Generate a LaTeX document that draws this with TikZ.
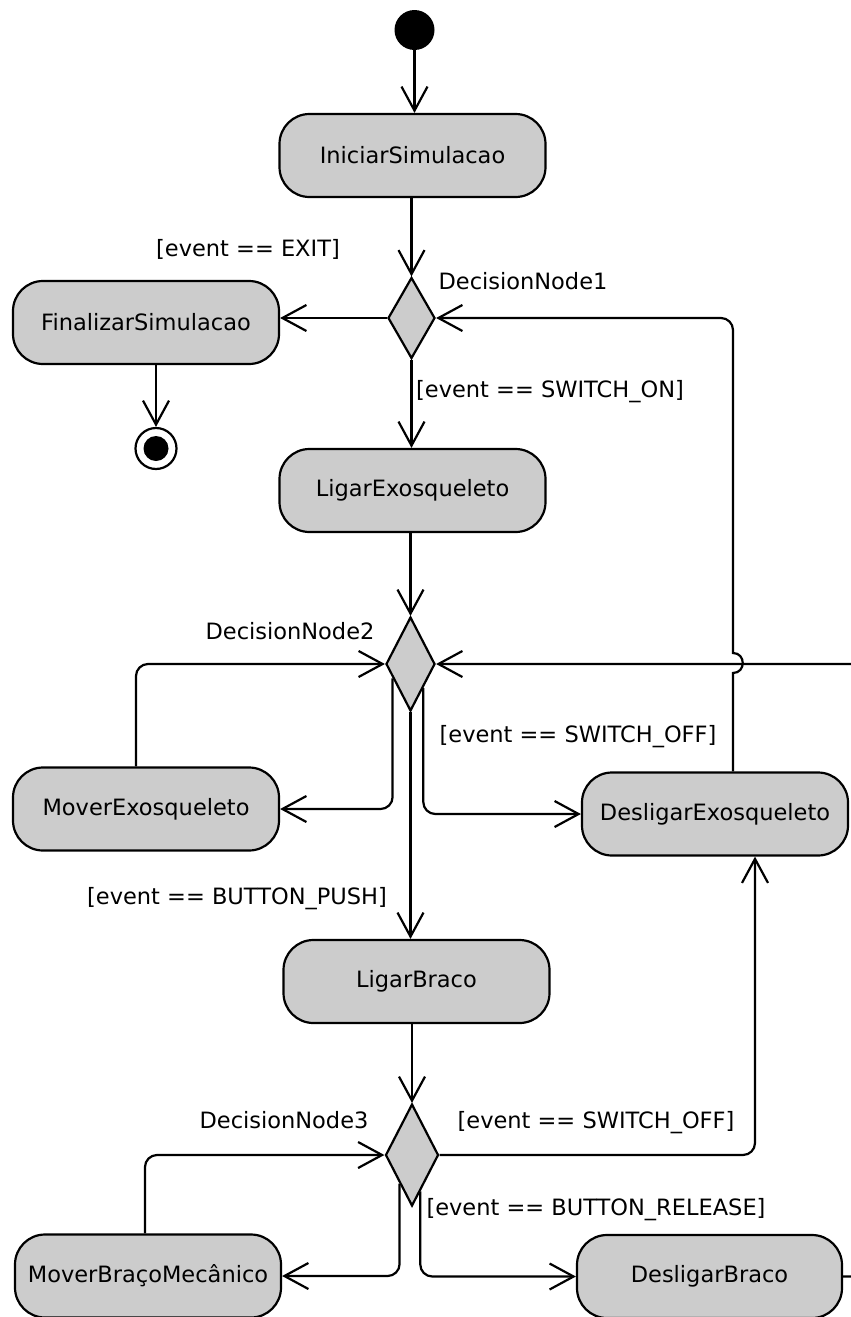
\documentclass[tikz,border=0pt]{standalone}
\usepackage{fontspec}
\setmainfont{DejaVu Sans}
\usetikzlibrary{arrows.meta,shapes.geometric,calc}
\definecolor{actfill}{HTML}{CCCCCC}

\begin{document}
\begin{tikzpicture}[x=1pt,y=-1pt,
  every node/.style={font=\fontsize{22.5}{27}\selectfont},
  action/.style={draw,line width=2.2pt,fill=actfill,rounded corners=30pt,
    minimum width=266pt,minimum height=83pt,inner sep=0pt},
  decision/.style={draw,line width=2.2pt,fill=actfill,diamond,inner sep=0pt},
  flow/.style={line width=2.2pt,rounded corners=12pt,
    -{Straight Barb[length=24pt,width=26pt]}},
  guard/.style={inner sep=0pt}
]
\useasboundingbox (0,0) rectangle (851,1317);

% start and end of the activity
\node[circle,fill=black,minimum size=40pt,inner sep=0pt] (init) at (414.5,30) {};
\node[circle,draw,line width=2.2pt,minimum size=41pt,inner sep=0pt] (fin) at (156,448.5) {};
\node[circle,fill=black,minimum size=25pt,inner sep=0pt] (finDot) at (156,448.5) {};

% actions
\node[action] (Ini) at (412.5,155.5) {IniciarSimulacao};
\node[action] (Fin) at (146,322.5) {FinalizarSimulacao};
\node[action] (LE)  at (412.5,490.5) {LigarExosqueleto};
\node[action] (ME)  at (146,809) {MoverExosqueleto};
\node[action] (DX)  at (715,814) {DesligarExosqueleto};
\node[action] (LB)  at (416.5,981.5) {LigarBraco};
\node[action] (MB)  at (148,1276) {MoverBraçoMecânico};
\node[action,minimum width=265pt] (DB) at (709.5,1276.5) {DesligarBraco};

% decisions
\node[decision,minimum width=47pt,minimum height=81pt]  (D1) at (411.5,318) {};
\node[decision,minimum width=49pt,minimum height=94pt]  (D2) at (410.5,664) {};
\node[decision,minimum width=53pt,minimum height=102pt] (D3) at (412,1155) {};

% decision names and guards
\node[guard] (n1) at (523,281) {DecisionNode1};
\node[guard] (n2) at (290,631) {DecisionNode2};
\node[guard] (n3) at (284,1120) {DecisionNode3};
\node[guard] (gExit)    at (248,249)  {[event == EXIT]};
\node[guard] (gOn)      at (550,392)  {[event == SWITCH\_ON]};
\node[guard] (gOff1)    at (578,737)  {[event == SWITCH\_OFF]};
\node[guard] (gPush)    at (237,899)  {[event == BUTTON\_PUSH]};
\node[guard] (gOff2)    at (596,1123) {[event == SWITCH\_OFF]};
\node[guard] (gRelease) at (596,1210) {[event == BUTTON\_RELEASE]};

% control flows
\draw[flow] (init.south) -- (init.south |- Ini.north);
\draw[flow] (Ini.south -| D1.north) -- (D1.north);
\draw[flow] (D1.west) -- (D1.west -| Fin.east);
\draw[flow] (Fin.south -| fin) -- (fin.north);
\draw[flow] (D1.south) -- (D1.south |- LE.north);
\draw[flow] (LE.south -| D2.north) -- (D2.north);
\draw[flow] ([xshift=-10pt]ME.north) |- (D2.west);
\draw[flow] ($(D2.west)!0.3!(D2.south)$) |- (ME.east);
\draw[flow] ($(D2.east)!0.5!(D2.south)$) |- (DX.west);
\draw[flow] (D2.south) -- (D2.south |- LB.north);

% back to the first decision, hopping over the flow into DecisionNode2
\coordinate (hop) at (733,663);
\draw[flow,sharp corners] ([xshift=18pt]DX.north) -- ([yshift=-10pt]hop)
  .. controls ([xshift=13pt,yshift=-10pt]hop) and ([xshift=13pt,yshift=10pt]hop) .. ([yshift=10pt]hop)
  -- ([yshift=40pt]hop) [rounded corners=12pt] -- (hop |- D1.east) -- (D1.east);

\draw[flow] (LB.south -| D3.north) -- (D3.north);
\draw[flow] ([xshift=-3pt]MB.north) |- (D3.west);
\draw[flow] ($(D3.west)!0.55!(D3.south)$) |- (MB.east);
\draw[flow] ($(D3.east)!0.7!(D3.south)$) |- (DB.west);
\draw[flow] (D3.east) -| ([xshift=40pt]DX.south);
\draw[flow] (DB.east) -- ++(33,0) |- (D2.east);
\end{tikzpicture}
\end{document}
